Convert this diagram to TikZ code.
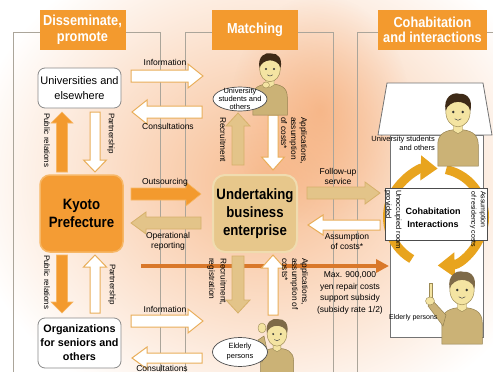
\documentclass[tikz,border=0pt]{standalone}
\usepackage{fontspec}
\setmainfont{Liberation Sans}
\setsansfont{Liberation Sans}
\newfontfamily\condsans[FakeStretch=0.88]{Liberation Sans}
\usetikzlibrary{arrows.meta,shapes.geometric,fadings}

\definecolor{hdrorange}{HTML}{F39A2E}
\definecolor{kyoto}{HTML}{F49C34}
\definecolor{kyotoedge}{HTML}{F7B766}
\definecolor{tanfill}{HTML}{E7C78B}
\definecolor{tanedge}{HTML}{F0DCB0}
\definecolor{tanarrow}{HTML}{E3C489}
\definecolor{tanarrowedge}{HTML}{D6B06A}
\definecolor{outlineorange}{HTML}{E9AE5A}
\definecolor{panelline}{HTML}{ABA59A}
\definecolor{boxgray}{HTML}{8A8A8A}
\definecolor{ringgold}{HTML}{E8A41E}
\definecolor{lineorange}{HTML}{D9782A}
\definecolor{glowc}{HTML}{F7BC90}
\definecolor{hotglow}{HTML}{F4A166}
\definecolor{skin}{HTML}{F4E4A2}
\definecolor{skinedge}{HTML}{9C8A55}
\definecolor{shirt}{HTML}{CBB276}
\definecolor{shirtedge}{HTML}{93804F}
\definecolor{darkhair}{HTML}{3E2A17}
\definecolor{greyhair}{HTML}{7E6A48}

% radial fading: opaque centre, transparent rim
\tikzfading[name=softglow, inner color=transparent!0, outer color=transparent!100]

% block arrow: style, start, direction angle, length, shaft half width, head half width, head length
\newcommand\blockarrow[7]{%
  \begin{scope}[shift={#2},rotate=#3]
    \filldraw[#1] (0,-#5) -- ({#4-#7},-#5) -- ({#4-#7},-#6) -- (#4,0)
      -- ({#4-#7},#6) -- ({#4-#7},#5) -- (0,#5) -- cycle;
  \end{scope}}

% simple cartoon figure: head centre, scale, hair colour
\newcommand\folk[3]{%
  \begin{scope}[shift={#1},scale=#2]
    \filldraw[fill=shirt,draw=shirtedge,line width=0.5pt] (-15,40) -- (-15,24)
      .. controls (-15,16) and (-9,13) .. (0,13) .. controls (9,13) and (15,16) .. (15,24) -- (15,40) -- cycle;
    \filldraw[fill=skin,draw=skinedge,line width=0.4pt] (-3.5,8) -- (-3.5,14) -- (0,16) -- (3.5,14) -- (3.5,8) -- cycle;
    \filldraw[fill=skin,draw=skinedge,line width=0.5pt] (0,0) ellipse [x radius=9, y radius=11];
    \fill[#3] (-9.2,-1) .. controls (-11,-11) and (-4,-15) .. (1,-13.5)
      .. controls (7,-14) and (11,-9) .. (9.2,-1) .. controls (8,-6) and (3,-7.5) .. (0,-7.5)
      .. controls (-4,-7.5) and (-8,-5) .. cycle;
    \fill[black!80] (-3.5,0) circle (1) (3.5,0) circle (1);
    \draw[black!70,line width=0.5pt] (-2.5,5) .. controls (-1,6.5) and (1,6.5) .. (2.5,5);
  \end{scope}}

\begin{document}
\begin{tikzpicture}[x=1pt,y=-1pt,line join=miter,
  hdr/.style={fill=hdrorange,text=white,font=\condsans\bfseries\fontsize{14.5}{15.5}\selectfont,
    align=center,inner sep=0pt,minimum height=40pt},
  lbl/.style={font=\fontsize{8.5}{10}\selectfont,inner sep=0pt,align=center},
  rlbl/.style={rotate=-90,inner sep=0pt,align=left,anchor=west},
  panel/.style={draw=panelline,line width=0.8pt},
  plainbox/.style={draw=boxgray,fill=white,line width=0.8pt,rounded corners=7pt,align=center,inner sep=0pt},
  whitearrow/.style={fill=white,draw=outlineorange,line width=1pt},
  orangearrow/.style={fill=hdrorange,draw=kyotoedge,line width=0.6pt},
  tanarrowst/.style={fill=tanarrow,draw=tanarrowedge,line width=0.8pt},
  ringarc/.style={draw=ringgold,line width=9pt,-{Triangle[length=17pt,width=24pt]}},
  bubble/.style={draw=black!70,fill=white,ellipse,line width=0.7pt,inner sep=0pt},
  bubbletext/.style={font=\fontsize{7.5}{8.3}\selectfont,align=center,inner sep=0pt}
]
\useasboundingbox (0,0) rectangle (493,372);

% soft orange glow behind the scheme
\fill[white] (0,0) rectangle (493,372);
\shade[inner color=glowc,outer color=white] (265,180) ellipse [x radius=300, y radius=255];
\fill[hotglow,fill opacity=0.55,path fading=softglow] (320,110) ellipse [x radius=90, y radius=115];

% column frames
\draw[panel] (40,32) -- (13,32) -- (13,372);
\draw[panel] (125,32) -- (160,32) -- (160,372);
\draw[panel] (212,32) -- (185,32) -- (185,372);
\draw[panel] (298,32) -- (333,32) -- (333,372);
\draw[panel] (378,32) -- (357,32) -- (357,372);
\draw[panel] (487,32) -- (493,32);

% column headers
\node[hdr,minimum width=86pt] (hdrL) at (82.5,30) {Disseminate,\\promote};
\node[hdr,minimum width=86pt] (hdrM) at (255,30) {Matching};
\node[hdr,minimum width=109pt] (hdrR) at (432.5,30) {Cohabitation\\and interactions};

% subsidy line
\draw[lineorange,line width=3.5pt,-{Triangle[length=13pt,width=13pt]}] (141,266) -- (389,266);

% left column arrows
\blockarrow{orangearrow}{(62,172)}{90}{60}{5.5}{11}{11}
\blockarrow{whitearrow}{(95,112)}{270}{60}{5}{11.5}{12}
\blockarrow{orangearrow}{(62,255)}{270}{58}{5.5}{11}{11}
\blockarrow{whitearrow}{(95,313)}{90}{58}{5}{11.5}{12}

% arrows between left and middle columns
\blockarrow{whitearrow}{(131,76)}{0}{72}{6}{12}{15}
\blockarrow{whitearrow}{(202,112)}{180}{70}{6}{12}{15}
\blockarrow{orangearrow}{(131,194)}{0}{70}{6}{12}{15}
\blockarrow{tanarrowst}{(201,223)}{180}{70}{6}{11}{15}
\blockarrow{whitearrow}{(131,321)}{0}{72}{6}{12}{15}
\blockarrow{whitearrow}{(202,358)}{180}{70}{5}{11}{15}

% middle column arrows
\blockarrow{tanarrowst}{(238,165)}{90}{52}{6}{12}{13}
\blockarrow{whitearrow}{(273,115)}{270}{55}{5}{11.5}{13}
\blockarrow{tanarrowst}{(238,256)}{270}{57}{6}{12}{13}
\blockarrow{whitearrow}{(273,315)}{90}{60}{5}{11.5}{13}

% arrows between middle and right columns
\blockarrow{tanarrowst}{(307,193)}{0}{73}{6}{11}{15}
\blockarrow{whitearrow}{(380,225)}{180}{72}{5}{10}{15}

% main boxes
\node[plainbox,minimum width=83pt,minimum height=40pt,font=\fontsize{11}{14.5}\selectfont]
  (univ) at (79.5,88) {Universities and\\elsewhere};
\node[plainbox,minimum width=83pt,minimum height=50pt,font=\bfseries\fontsize{10.8}{14}\selectfont]
  (orgs) at (79.5,343) {Organizations\\for seniors and\\others};
\node[fill=kyoto,draw=kyotoedge,line width=1.5pt,rounded corners=10pt,minimum width=83pt,
  minimum height=77pt,inner sep=0pt,align=center,font=\condsans\bfseries\fontsize{15}{18}\selectfont]
  (kyoto) at (81.5,213.5) {Kyoto\\Prefecture};
\node[fill=tanfill,draw=tanedge,line width=2pt,rounded corners=12pt,minimum width=84pt,
  minimum height=77pt,inner sep=0pt,align=center,font=\condsans\bfseries\fontsize{15}{18}\selectfont]
  (biz) at (255,213.5) {Undertaking\\business\\enterprise};

% house of the cohabitation column
\filldraw[fill=white,draw=black!55,line width=0.8pt] (390,135) rectangle (483,337);
\filldraw[fill=white,draw=black!55,line width=0.8pt] (387,83) -- (483,83) -- (492,135) -- (378,135) -- cycle;

% exchange ring
\draw[ringarc] (411.75,259) arc[start angle=120, end angle=272, radius=48.5];
\draw[ringarc] (446.1,169.6) arc[start angle=282, end angle=448, radius=48.5];

\node[draw=black!70,fill=white,line width=0.8pt,minimum width=102pt,minimum height=52pt,inner sep=0pt]
  (cohab) at (436,214) {};
\node[font=\bfseries\fontsize{9}{12.5}\selectfont,align=center,inner sep=0pt] (cohabtxt) at (433,218)
  {Cohabitation\\Interactions};
\node[rlbl,font=\fontsize{7.5}{10}\selectfont] (unocc) at (393,190) {Unoccupied room\\provided};
\node[rlbl,font=\fontsize{7}{9.5}\selectfont] (resid) at (478,191) {Assumption\\of residency costs};

% people
\folk{(270,69)}{1.15}{darkhair}
\filldraw[fill=skin,draw=skinedge,line width=0.4pt] (266,85) ellipse [x radius=3.5, y radius=3];
\folk{(277,334)}{1.1}{greyhair}
\filldraw[fill=shirt,draw=shirtedge,line width=0.5pt] (262,362) -- (258,340) -- (264,336) -- (267,350) -- cycle;
\filldraw[fill=skin,draw=skinedge,line width=0.4pt] (262,328) ellipse [x radius=4, y radius=5];
\folk{(458,112)}{1.35}{darkhair}
\folk{(462,290)}{1.35}{greyhair}
\filldraw[fill=shirt,draw=shirtedge,line width=0.5pt] (443,326) -- (428,306) -- (433,301) -- (446,315) -- cycle;
\filldraw[fill=skin,draw=skinedge,line width=0.4pt] (429,283) rectangle (432,298);
\filldraw[fill=skin,draw=skinedge,line width=0.4pt] (430,301) ellipse [x radius=4.5, y radius=4];

% speech bubbles
\node[bubble,minimum width=54pt,minimum height=24pt] (stuM) at (240,99) {};
\node[bubbletext] (stuMtxt) at (stuM) {University\\students and\\others};
\node[bubble,minimum width=55pt,minimum height=29pt] (eldM) at (240,352) {};
\node[bubbletext,font=\fontsize{7.5}{10}\selectfont] (eldMtxt) at (eldM) {Elderly\\persons};

% people captions in the house
\node[font=\fontsize{7.5}{9}\selectfont,align=right,inner sep=0pt,anchor=north east] (stuR) at (435,136)
  {University students\\and others};
\node[font=\fontsize{7}{9}\selectfont,inner sep=0pt,anchor=west] (eldR) at (389,318) {Elderly persons};

% horizontal arrow labels
\node[lbl] (infoA) at (165,62) {Information};
\node[lbl] (consA) at (168,126) {Consultations};
\node[lbl] (outs) at (165,182) {Outsourcing};
\node[lbl] (opr) at (168,241) {Operational\\reporting};
\node[lbl] (infoB) at (165,309) {Information};
\node[lbl] (consB) at (162,368) {Consultations};
\node[lbl] (follow) at (338,176) {Follow-up\\service};
\node[lbl] (assum) at (347,241) {Assumption\\of costs*};
\node[lbl,font=\fontsize{8.5}{11.8}\selectfont] (subsidy) at (350,293)
  {Max. 900,000\\yen repair costs\\support subsidy\\(subsidy rate 1/2)};

% vertical arrow labels
\node[rlbl,font=\fontsize{8}{10}\selectfont] (prA) at (47,113) {Public relations};
\node[rlbl,font=\fontsize{8}{10}\selectfont] (ptA) at (111,113) {Partnership};
\node[rlbl,font=\fontsize{8}{10}\selectfont] (prB) at (47,255) {Public relations};
\node[rlbl,font=\fontsize{8}{10}\selectfont] (ptB) at (112,264) {Partnership};
\node[rlbl,font=\fontsize{8.3}{10}\selectfont] (recA) at (223,117) {Recruitment};
\node[rlbl,font=\fontsize{8.3}{10}\selectfont] (appA) at (294,117) {Applications,\\assumption\\of costs*};
\node[rlbl,font=\fontsize{8.3}{11.5}\selectfont] (recB) at (217,258) {Recruitment,\\registration};
\node[rlbl,font=\fontsize{8.3}{10}\selectfont] (appB) at (295,258) {Applications,\\assumption of\\costs*};
\end{tikzpicture}
\end{document}
